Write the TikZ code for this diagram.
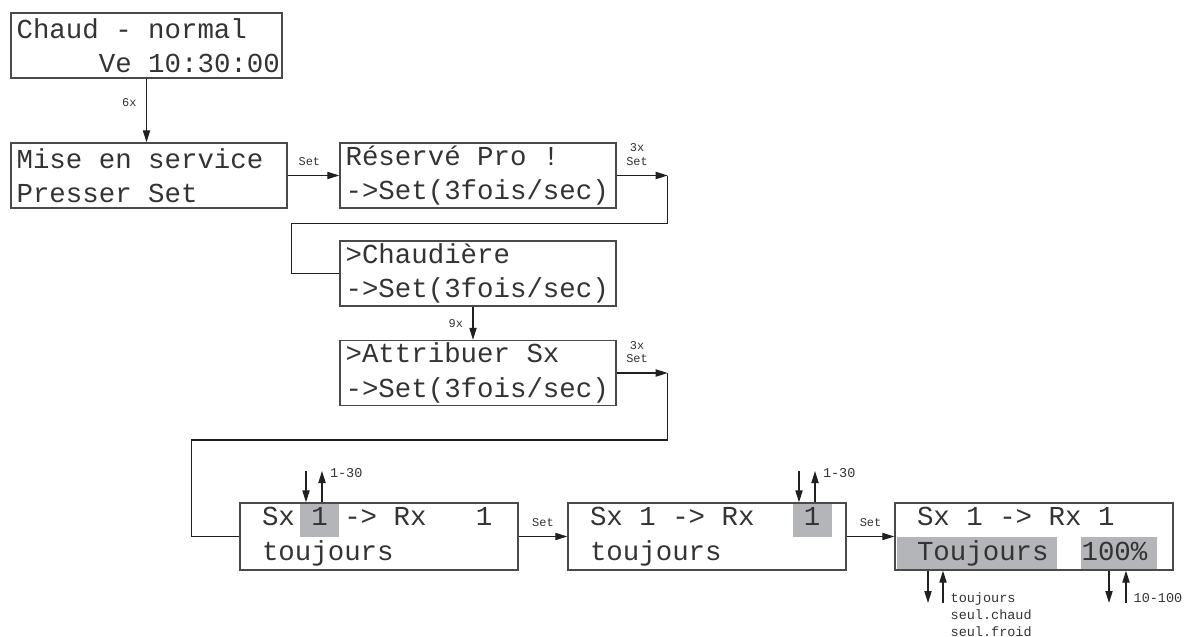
\documentclass[tikz,border=0pt]{standalone}
\usepackage{fontspec}
\usepackage{xcolor}
\usetikzlibrary{arrows.meta,positioning}
\newfontfamily\lcdfont{Liberation Mono}
\definecolor{lcdframe}{HTML}{4A4A4A}
\definecolor{lcdtext}{HTML}{333333}
\definecolor{lcdsel}{HTML}{B4B5B8}
\definecolor{lcdwire}{HTML}{202020}
\newcommand{\lcdpad}[1]{\hphantom{#1}}

\begin{document}
\begin{tikzpicture}[
  x=0.025cm, y=-0.025cm,
  lcd/.style={draw=lcdframe, line width=0.9pt, font=\lcdfont\fontsize{19.5}{24.5}\selectfont, text=lcdtext, inner xsep=0.14cm, inner ysep=0pt, minimum height=1.625cm,
    execute at begin node={\spaceskip=0.6em\relax\xspaceskip=0.6em\relax}},
  narrow/.style={text width=6.495cm},
  wide/.style={text width=6.62cm},
  wider/.style={text width=6.67cm, minimum height=1.675cm},
  sel/.style={fill=lcdsel, inner sep=0pt},
  tag/.style={font=\lcdfont\fontsize{8.5}{9.5}\selectfont, text=lcdtext, inner sep=1pt},
  hint/.style={font=\lcdfont\fontsize{9.6}{12.1}\selectfont, text=lcdtext, inner sep=1pt},
  arr/.style={-{Triangle[length=3mm,width=1.8mm]}, line width=0.9pt, draw=lcdwire},
  wire/.style={line width=0.9pt, draw=lcdwire}
]
\useasboundingbox (0,0) rectangle (1184,637);
% selected fields
\node[sel, minimum width=0.975cm, minimum height=0.825cm] (selA) at (319.5,520.5) {};
\node[sel, minimum width=0.975cm, minimum height=0.825cm] (selB) at (812.5,520.5) {};
\node[sel, minimum width=4cm, minimum height=0.8cm] (selC) at (977,553) {};
\node[sel, minimum width=1.9cm, minimum height=0.8cm] (selD) at (1119,553) {};
% displays
\node[lcd, narrow] (chaud) at (146.5,45.5) {Chaud - normal\\\lcdpad{00000}Ve~10:30:00};
\node[lcd, wide] (mise) at (149,175.5) {Mise en service\\Presser Set};
\node[lcd, wide] (reserve) at (478,175.5) {Réservé Pro !\\\mbox{->Set(3fois/sec)}};
\node[lcd, wide] (chaudiere) at (478,273.5) {>Chaudière\\\mbox{->Set(3fois/sec)}};
\node[lcd, wide] (attrib) at (478,373) {>Attribuer Sx\\\mbox{->Set(3fois/sec)}};
\node[lcd, wider] (sxA) at (379,536.5) {\lcdpad{0}Sx 1 -> Rx\lcdpad{000}1\\\lcdpad{0}toujours};
\node[lcd, wider] (sxB) at (707,536.5) {\lcdpad{0}Sx 1 -> Rx\lcdpad{000}1\\\lcdpad{0}toujours};
\node[lcd, wider] (sxC) at (1034,536.5) {\lcdpad{0}Sx 1 -> Rx 1\\\lcdpad{0}Toujours\lcdpad{00}100\%};
% key presses
\draw[arr] (chaud.south) -- node[tag, left=0.2cm, pos=0.38] {6x} (chaud.south |- mise.north);
\draw[arr] (mise) -- node[tag, above=0.2cm, pos=0.42] {Set} (reserve);
\draw[arr] (reserve.east) -- node[tag, above=0.2cm, pos=0.4, align=center] {3x\\Set} ++(51,0) coordinate (retA);
\draw[wire] (retA) -- ++(0,48) -| ([xshift=-1.2cm]chaudiere.west) -- (chaudiere.west);
\draw[arr] ([xshift=-0.125cm]chaudiere.south) -- node[tag, left=0.2cm] {9x} ([xshift=-0.125cm]attrib.north);
\draw[arr] (attrib.east) -- node[tag, above=0.2cm, pos=0.4, align=center] {3x\\Set} ++(51,0) coordinate (retB);
\draw[wire] (retB) -- ++(0,67) -| ([xshift=-1.2cm]sxA.west) -- (sxA.west);
\draw[arr] (sxA) -- node[tag, above=0.2cm] {Set} (sxB);
\draw[arr] (sxB) -- node[tag, above=0.2cm] {Set} (sxC);
% up/down keys
\coordinate (dnA) at (306,471);
\coordinate (upA) at (322,471);
\coordinate (dnB) at (799,471);
\coordinate (upB) at (815,471);
\coordinate (dnC) at (928,603);
\coordinate (upC) at (943,603);
\coordinate (dnD) at (1109,603);
\coordinate (upD) at (1126,603);
\draw[arr] (dnA) -- (dnA |- sxA.north);
\draw[arr] (upA |- sxA.north) -- (upA) node[hint, anchor=west, xshift=0.15cm, yshift=-0.05cm] {1-30};
\draw[arr] (dnB) -- (dnB |- sxB.north);
\draw[arr] (upB |- sxB.north) -- (upB) node[hint, anchor=west, xshift=0.15cm, yshift=-0.05cm] {1-30};
\draw[arr] (dnC |- sxC.south) -- (dnC);
\draw[arr] (upC) -- (upC |- sxC.south);
\draw[arr] (dnD |- sxC.south) -- (dnD);
\draw[arr] (upD) -- (upD |- sxC.south);
\node[hint, anchor=north west, align=left] (modes) at (949,591) {toujours\\seul.chaud\\seul.froid};
\node[hint, anchor=west] (range) at (1132,598) {10-100};
\end{tikzpicture}
\end{document}
